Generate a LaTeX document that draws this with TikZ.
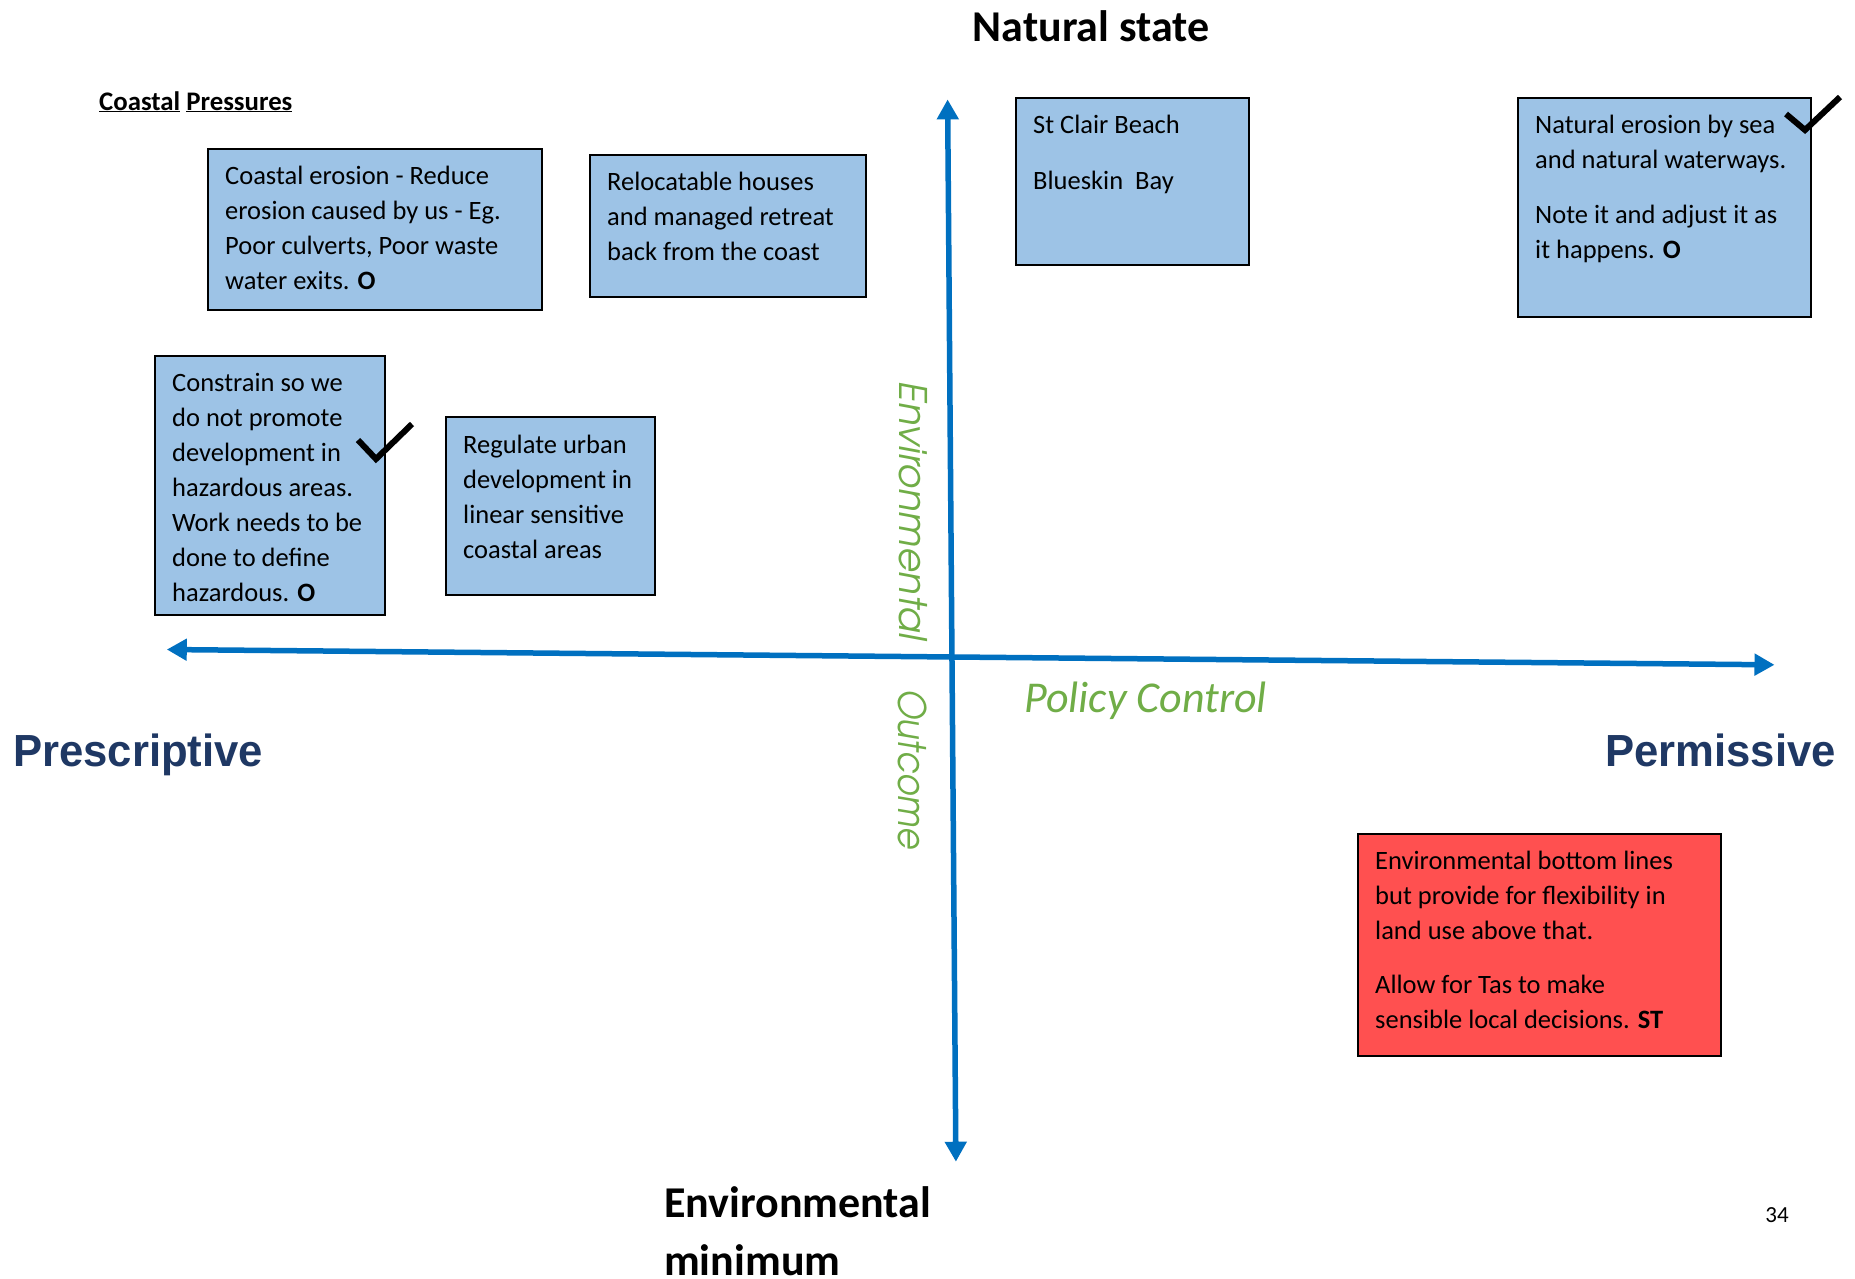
\documentclass[tikz,border=0pt]{standalone}
\usepackage{fontspec}
\setmainfont{Carlito}
\newfontfamily\gothic{texgyreadventor-italic.otf}
\newfontfamily\narrow{Liberation Sans}[FakeStretch=0.97]
\usetikzlibrary{arrows.meta}
\definecolor{boxblue}{HTML}{9DC3E6}
\definecolor{boxred}{HTML}{FF5050}
\definecolor{axisblue}{HTML}{0070C0}
\definecolor{labgreen}{HTML}{70AD47}
\definecolor{navy}{HTML}{1F3864}
\tikzset{
  qbox/.style={draw=black, line width=1.5pt, fill=boxblue, anchor=north west, inner sep=0pt},
  redbox/.style={qbox, fill=boxred},
  boxtext/.style={font=\fontsize{26.5}{35}\selectfont, align=left, inner sep=0pt, anchor=north west},
  axisline/.style={draw=axisblue, line width=5.5pt, {Triangle[length=20pt,width=21pt]}-{Triangle[length=20pt,width=21pt]}},
  checkmark/.style={draw=black, line width=6pt},
  ctitle/.style={font=\fontsize{44}{58}\selectfont\bfseries, inner sep=0pt},
  poles/.style={font=\fontsize{45}{54}\narrow\bfseries, text=navy, inner sep=0pt},
  axislab/.style={font=\fontsize{38}{46}\gothic, text=labgreen, inner sep=0pt, rotate=-90}
}
\begin{document}
\begin{tikzpicture}[x=1pt,y=-1pt]
\useasboundingbox (0,0) rectangle (1855,1278);
\fill[white] (0,0) rectangle (1855,1278);

% axes
\coordinate (ytop) at (947.6,99.4);
\coordinate (ybot) at (955.9,1161.7);
\coordinate (xleft) at (166.8,649.5);
\coordinate (xright) at (1774.5,664.8);
\draw[axisline] (xleft) -- (xright);
\draw[axisline] (ytop) -- (ybot);

% titles
\node[ctitle] (natural) at (1091,26) {Natural state};
\node[ctitle, align=left, anchor=north west] (envmin) at (664,1177) {\strut Environmental\\minimum};
\node[poles, anchor=base west] (prescr) at (13,766) {Prescriptive};
\node[poles, anchor=base east] (permis) at (1836,766) {Permissive};
\node[font=\fontsize{44}{52}\selectfont\itshape, text=labgreen, anchor=base west, inner sep=0pt] (policy) at (1024,712) {Policy Control};
\node[axislab] (envlab) at (913,511) {Environmental};
\node[axislab] (outlab) at (913,769.5) {\scalebox{0.9}[1]{Outcome}};
\node[font=\fontsize{26.8}{32}\selectfont\bfseries, anchor=base west, inner sep=0pt] (coastal) at (99,110) {\underline{Coastal} \underline{Pressures}};
\node[font=\fontsize{23}{28}\selectfont, inner sep=0pt] (pagenum) at (1777,1215) {34};

% boxes
\node[qbox, minimum width=334pt, minimum height=161pt] (b1) at (207,148) {};
\node[boxtext] (t1) at ([xshift=18pt,yshift=-11.5pt]b1.north west) {\strut Coastal erosion - Reduce\\erosion caused by us - Eg.\\Poor culverts, Poor waste\\water exits. \textbf{O}};

\node[qbox, minimum width=276pt, minimum height=142pt] (b2) at (589,154) {};
\node[boxtext] (t2) at ([xshift=18pt,yshift=-11.5pt]b2.north west) {\strut Relocatable houses\\and managed retreat\\back from the coast};

\node[qbox, minimum width=233pt, minimum height=167pt] (b3) at (1015,97) {};
\node[boxtext] (t3) at ([xshift=18pt,yshift=-11.5pt]b3.north west) {\strut St Clair Beach\\[21pt]Blueskin\ \ Bay};

\node[qbox, minimum width=293pt, minimum height=219pt] (b4) at (1517,97) {};
\node[boxtext] (t4) at ([xshift=18pt,yshift=-11.5pt]b4.north west) {\strut Natural erosion by sea\\and natural waterways.\\[20pt]Note it and adjust it as\\it happens. \textbf{O}};

\node[qbox, minimum width=230pt, minimum height=259pt] (b5) at (154,355) {};
\node[boxtext] (t5) at ([xshift=18pt,yshift=-11.5pt]b5.north west) {\strut Constrain so we\\do not promote\\development in\\hazardous areas.\\Work needs to be\\done to define\\hazardous. \textbf{O}};

\node[qbox, minimum width=209pt, minimum height=178pt] (b6) at (445,416) {};
\node[boxtext] (t6) at ([xshift=18pt,yshift=-12.5pt]b6.north west) {\strut Regulate urban\\development in\\linear sensitive\\coastal areas};

\node[redbox, minimum width=363pt, minimum height=222pt] (b7) at (1357,833) {};
\node[boxtext] (t7) at ([xshift=18pt,yshift=-11.5pt]b7.north west) {\strut Environmental bottom lines\\but provide for flexibility in\\land use above that.\\[19pt]Allow for Tas to make\\sensible local decisions. \textbf{ST}};

% check marks
\draw[checkmark] (358,440) -- (376,459) -- (412,424);
\draw[checkmark] (1786,114) -- (1805,130) -- (1840,97);
\end{tikzpicture}
\end{document}
